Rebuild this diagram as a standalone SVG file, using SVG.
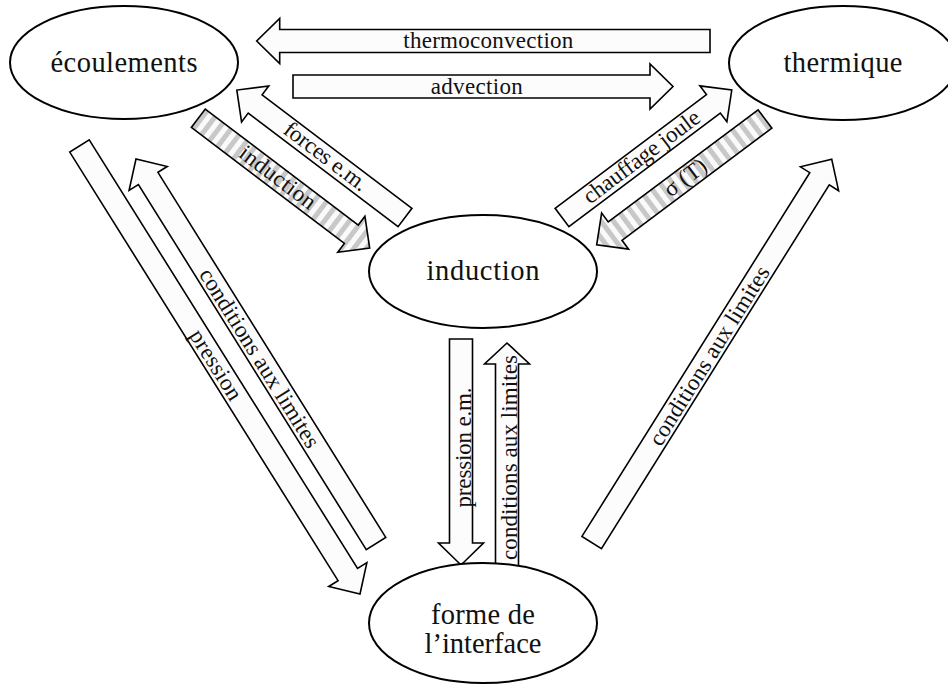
<svg xmlns="http://www.w3.org/2000/svg" width="948" height="689" viewBox="0 0 948 689">
  <defs>
    <pattern id="hatch" patternUnits="userSpaceOnUse" width="10" height="10">
      <rect x="0" y="0" width="10" height="10" fill="#fafafa"/>
      <rect x="0" y="0" width="5" height="10" fill="#c8c8c8"/>
    </pattern>
    <style>
      .node { fill: #ffffff; stroke: #000; stroke-width: 2; }
      .ntxt { font-family: "Liberation Serif", "Times New Roman", serif; font-size: 28.5px; fill: #111; text-anchor: middle; }
      .arr { fill: #fcfcfc; stroke: #000; stroke-width: 1.6; stroke-linejoin: miter; }
      .hat { fill: url(#hatch); stroke: #000; stroke-width: 1.6; }
      .atxt { font-family: "Liberation Serif", "Times New Roman", serif; font-size: 23px; fill: #111; text-anchor: middle; }
    </style>
  </defs>
  <rect width="948" height="689" fill="#ffffff"/>

  <g id="connectors">
    <g id="thermoconvection">
      <polygon class="arr" transform="translate(710,41) rotate(180)" points="0,-11.5 430.3,-11.5 430.3,-22.5 453.3,0 430.3,22.5 430.3,11.5 0,11.5"/>
      <text class="atxt" x="488.3" y="48.3" textLength="170" lengthAdjust="spacing">thermoconvection</text>
    </g>
    <g id="advection">
      <polygon class="arr" transform="translate(293,86.5)" points="0,-11.5 357,-11.5 357,-22.5 380,0 357,22.5 357,11.5 0,11.5"/>
      <text class="atxt" x="476.7" y="93.5" textLength="92" lengthAdjust="spacing">advection</text>
    </g>
    <g id="forces-em">
      <polygon class="arr" transform="translate(405,217.5) rotate(217.15)" points="0,-11.5 188,-11.5 188,-22.5 211,0 188,22.5 188,11.5 0,11.5"/>
      <text class="atxt" transform="translate(325.3,157.1) rotate(37.15)" x="0" y="6.5" textLength="99" lengthAdjust="spacing">forces e.m.</text>
    </g>
    <g id="induction-arrow">
      <polygon class="hat" transform="translate(198.3,118.3) rotate(37.15)" points="0,-11.5 192,-11.5 192,-22.5 215,0 192,22.5 192,11.5 0,11.5"/>
      <text class="atxt" transform="translate(277.2,178.1) rotate(37.15)" x="0" y="6.5" textLength="90" lengthAdjust="spacing">induction</text>
    </g>
    <g id="chauffage-joule">
      <polygon class="arr" transform="translate(562,217.5) rotate(-36.9)" points="0,-11.5 189.3,-11.5 189.3,-22.5 212.3,0 189.3,22.5 189.3,11.5 0,11.5"/>
      <text class="atxt" transform="translate(642,157.5) rotate(-36.9)" x="0" y="6.5" textLength="140" lengthAdjust="spacing">chauffage joule</text>
    </g>
    <g id="sigma-T">
      <polygon class="hat" transform="translate(765,119) rotate(143.2)" points="0,-11.5 187.2,-11.5 187.2,-22.5 210.2,0 187.2,22.5 187.2,11.5 0,11.5"/>
      <text class="atxt" transform="translate(685.7,178.3) rotate(-36.8)" x="0" y="6.5">σ (T)</text>
    </g>
    <g id="pression">
      <polygon class="arr" transform="translate(79.5,146) rotate(57.95)" points="0,-11.5 505.6,-11.5 505.6,-22.5 528.6,0 505.6,22.5 505.6,11.5 0,11.5"/>
      <text class="atxt" transform="translate(216.5,364.6) rotate(57.95)" x="0" y="8" textLength="79" lengthAdjust="spacing">pression</text>
    </g>
    <g id="conditions-left">
      <polygon class="arr" transform="translate(376,543.5) rotate(238.03)" points="0,-11.5 430.3,-11.5 430.3,-22.5 453.3,0 430.3,22.5 430.3,11.5 0,11.5"/>
      <text class="atxt" transform="translate(260,357.7) rotate(58.03)" x="0" y="8" textLength="207" lengthAdjust="spacing">conditions aux limites</text>
    </g>
    <g id="conditions-right">
      <polygon class="arr" transform="translate(591.7,542.5) rotate(-57.94)" points="0,-11.5 429.2,-11.5 429.2,-22.5 452.2,0 429.2,22.5 429.2,11.5 0,11.5"/>
      <text class="atxt" transform="translate(708.8,355.5) rotate(-57.94)" x="0" y="8" textLength="207" lengthAdjust="spacing">conditions aux limites</text>
    </g>
    <g id="pression-em">
      <polygon class="arr" transform="translate(461,339) rotate(90)" points="0,-11.5 204,-11.5 204,-22.5 226,0 204,22.5 204,11.5 0,11.5"/>
      <text class="atxt" transform="translate(461,447.5) rotate(-90)" x="0" y="10" textLength="120" lengthAdjust="spacing">pression e.m.</text>
    </g>
    <g id="conditions-vert">
      <polygon class="arr" transform="translate(507,567) rotate(-90)" points="0,-11.5 203,-11.5 203,-22.5 224,0 203,22.5 203,11.5 0,11.5"/>
      <text class="atxt" transform="translate(507,457.5) rotate(-90)" x="0" y="10" textLength="205" lengthAdjust="spacing">conditions aux limites</text>
    </g>
  </g>

  <g id="ecoulements">
    <ellipse class="node" cx="124" cy="62.5" rx="114" ry="56.5"/>
    <text class="ntxt" x="124" y="71.5" textLength="147" lengthAdjust="spacing">écoulements</text>
  </g>
  <g id="thermique">
    <ellipse class="node" cx="843" cy="63" rx="114" ry="57"/>
    <text class="ntxt" x="843" y="72" textLength="119" lengthAdjust="spacing">thermique</text>
  </g>
  <g id="induction">
    <ellipse class="node" cx="483" cy="271.5" rx="114" ry="56.5"/>
    <text class="ntxt" x="483" y="279.5" textLength="113" lengthAdjust="spacing">induction</text>
  </g>
  <g id="forme-interface">
    <ellipse class="node" cx="483" cy="623" rx="114" ry="60"/>
    <text class="ntxt" x="483" y="624" textLength="104" lengthAdjust="spacing">forme de</text>
    <text class="ntxt" x="483" y="653" textLength="117" lengthAdjust="spacing">l’interface</text>
  </g>
</svg>
